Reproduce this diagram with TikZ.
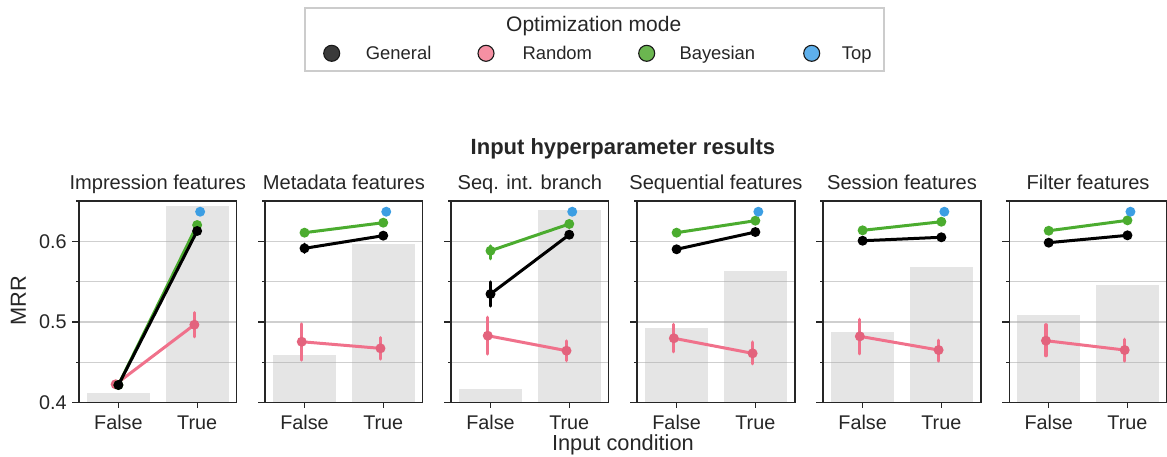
\documentclass[tikz,border=0pt]{standalone}
\usepackage{fontspec}
\setmainfont{Liberation Sans}
\definecolor{spinec}{HTML}{262626}
\definecolor{barc}{HTML}{E5E5E5}
\definecolor{gridc}{HTML}{ACACAC}
\definecolor{genc}{HTML}{000000}
\definecolor{rline}{HTML}{F0718B}
\definecolor{rmark}{HTML}{E3637D}
\definecolor{bayc}{HTML}{4BAC2F}
\definecolor{topc}{HTML}{3C9EE3}
\definecolor{lgG}{HTML}{3A3A3A}
\definecolor{lgR}{HTML}{F590A3}
\definecolor{lgB}{HTML}{6BB650}
\definecolor{lgT}{HTML}{5EB0EC}
\definecolor{legedge}{HTML}{CCCCCC}

\tikzset{
  spine/.style={draw=spinec, line width=1.6pt},
  tickln/.style={draw=spinec, line width=1.3pt},
  gridln/.style={draw=gridc, draw opacity=0.58, line width=1.3pt},
  barbox/.style={fill=barc},
  ln/.style={line width=3pt, line cap=round},
  eb/.style={line width=3.2pt, line cap=round},
  mk/.style={circle, inner sep=0pt, minimum size=10pt},
  lnG/.style={draw=genc}, mkG/.style={fill=genc},
  lnR/.style={draw=rline}, mkR/.style={fill=rmark},
  lnB/.style={draw=bayc}, mkB/.style={fill=bayc},
  mkT/.style={fill=topc},
  xlab/.style={anchor=base, inner sep=0pt, yshift=-27pt, font=\fontsize{19.8}{22}\selectfont, text=spinec},
  ylab/.style={anchor=east, inner sep=0pt, xshift=-12.3pt, font=\fontsize{19.8}{22}\selectfont, text=spinec},
  ttl/.style={anchor=base, inner sep=0pt, yshift=12pt, font=\fontsize{20.1}{22}\selectfont, text=spinec},
  axlab/.style={inner sep=0pt, font=\fontsize{21.8}{24}\selectfont, text=spinec},
  legmk/.style={circle, inner sep=0pt, minimum size=16pt, draw=black!90, line width=1.1pt},
  legtxt/.style={anchor=base west, inner sep=0pt, font=\fontsize{18.4}{21}\selectfont, text=spinec},
}

% gray bars behind the points
\newcommand\bars[2]{%
  \fill[barbox] (-0.4,0.4) rectangle (0.4,#1);
  \fill[barbox] (0.6,0.4) rectangle (1.4,#2);
}
% grid, ticks, spines, category labels and title of one panel
\newcommand\axesframe[1]{%
  \foreach \g in {0.45,0.5,0.55,0.6} \draw[gridln] (-0.5,\g) -- (1.5,\g);
  \foreach \t in {0.4,0.5,0.6} \draw[tickln] (-0.5,\t) -- ++(-7pt,0);
  \foreach \t in {0.45,0.55,0.65} \draw[tickln] (-0.5,\t) -- ++(-3.5pt,0);
  \draw[tickln] (0,0.4) -- ++(0,-5pt);
  \draw[tickln] (1,0.4) -- ++(0,-5pt);
  \draw[spine] (-0.5,0.4) rectangle (1.5,0.65);
  \node[xlab] (\pid xf) at (0,0.4) {False};
  \node[xlab] (\pid xt) at (1,0.4) {True};
  \node[ttl] (\pid ttl) at (0.5,0.65) {#1};
}
% one series: #1 key, #2 dodge, #3/#4 values at False/True,
% #5-#6 interval at False, #7-#8 interval at True
\newcommand\series[8]{%
  \coordinate (\pid#1F) at (#2,#3);
  \coordinate (\pid#1T) at ({1+(#2)},#4);
  \draw[ln,ln#1] (\pid#1F) -- (\pid#1T);
  \draw[eb,ln#1] (#2,#5) -- (#2,#6);
  \draw[eb,ln#1] ({1+(#2)},#7) -- ({1+(#2)},#8);
  \node[mk,mk#1] (\pid#1Fm) at (\pid#1F) {};
  \node[mk,mk#1] (\pid#1Tm) at (\pid#1T) {};
}
\newcommand\toppt{\node[mk,mkT] (\pid Tm) at (1.038,0.6367) {};}

\begin{document}
\begin{tikzpicture}[x=1pt,y=-1pt]
\useasboundingbox (0,0) rectangle (1167,456);

% legend
\draw[draw=legedge, line width=2pt] (304.5,7.5) rectangle (883.5,70.5);
\node[anchor=base, inner sep=0pt, font=\fontsize{21}{23}\selectfont, text=spinec] (legttl) at (593.7,31.5) {Optimization mode};
\node[legmk, fill=lgG] (lgGm) at (331.7,53.3) {};
\node[legtxt] (lgGt) at (365.7,59.3) {General};
\node[legmk, fill=lgR] (lgRm) at (486,53.3) {};
\node[legtxt] (lgRt) at (522.3,59.3) {Random};
\node[legmk, fill=lgB] (lgBm) at (646.7,53.3) {};
\node[legtxt] (lgBt) at (679.3,59.3) {Bayesian};
\node[legmk, fill=lgT] (lgTm) at (811.7,53.3) {};
\node[legtxt] (lgTt) at (841.7,59.3) {Top};

% figure titles
\node[anchor=base, inner sep=0pt, font=\bfseries\fontsize{22}{25}\selectfont, text=spinec] (sup) at (622.9,154.3) {Input hyperparameter results};
\node[axlab, anchor=base] (xcond) at (622.9,450) {Input condition};
\node[axlab, rotate=90] (mrr) at (18.3,301) {MRR};

% Impression features
\begin{scope}[shift={(118.4,724.9)},x=78.75pt,y=806pt]
\def\pid{a}
\bars{0.4118}{0.644}
\axesframe{Impression features}
\node[ylab] (ay4) at (-0.5,0.4) {0.4};
\node[ylab] (ay5) at (-0.5,0.5) {0.5};
\node[ylab] (ay6) at (-0.5,0.6) {0.6};
\series{R}{-0.035}{0.4226}{0.4965}{0.4226}{0.4226}{0.4816}{0.5114}
\series{B}{0}{0.4217}{0.6202}{0.4217}{0.4217}{0.6202}{0.6202}
\toppt
\series{G}{0}{0.4217}{0.6128}{0.4217}{0.4217}{0.6128}{0.6128}
\end{scope}

% Metadata features
\begin{scope}[shift={(304.5,724.9)},x=78.75pt,y=806pt]
\def\pid{b}
\bars{0.459}{0.597}
\axesframe{Metadata features}
\series{R}{-0.035}{0.4754}{0.4672}{0.4527}{0.4974}{0.454}{0.4804}
\series{B}{0}{0.6107}{0.6231}{0.6107}{0.6107}{0.6231}{0.6231}
\toppt
\series{G}{0}{0.5913}{0.607}{0.5863}{0.5963}{0.607}{0.607}
\end{scope}

% Seq. int. branch
\begin{scope}[shift={(490.5,724.9)},x=78.75pt,y=806pt]
\def\pid{c}
\bars{0.4168}{0.639}
\axesframe{Seq. int. branch}
\series{R}{-0.035}{0.4829}{0.4643}{0.4602}{0.5057}{0.4519}{0.4763}
\series{B}{0}{0.5883}{0.6215}{0.5784}{0.5942}{0.6215}{0.6215}
\toppt
\series{G}{0}{0.5346}{0.6082}{0.5197}{0.5495}{0.6082}{0.6082}
\end{scope}

% Sequential features
\begin{scope}[shift={(676.6,724.9)},x=78.75pt,y=806pt]
\def\pid{d}
\bars{0.4924}{0.563}
\axesframe{Sequential features}
\series{R}{-0.035}{0.4797}{0.461}{0.463}{0.497}{0.4481}{0.475}
\series{B}{0}{0.6107}{0.6256}{0.6107}{0.6107}{0.6256}{0.6256}
\toppt
\series{G}{0}{0.5901}{0.6115}{0.5875}{0.5927}{0.6115}{0.6115}
\end{scope}

% Session features
\begin{scope}[shift={(862.6,724.9)},x=78.75pt,y=806pt]
\def\pid{e}
\bars{0.488}{0.568}
\axesframe{Session features}
\series{R}{-0.035}{0.4821}{0.4651}{0.4605}{0.5032}{0.4515}{0.4772}
\series{B}{0}{0.6136}{0.6243}{0.6136}{0.6136}{0.6243}{0.6243}
\toppt
\series{G}{0}{0.6007}{0.605}{0.6007}{0.6007}{0.605}{0.605}
\end{scope}

% Filter features
\begin{scope}[shift={(1048.7,724.9)},x=78.75pt,y=806pt]
\def\pid{f}
\bars{0.509}{0.546}
\axesframe{Filter features}
\series{R}{-0.035}{0.4767}{0.4651}{0.4581}{0.4965}{0.4515}{0.4784}
\series{B}{0}{0.6131}{0.626}{0.6131}{0.6131}{0.626}{0.626}
\toppt
\series{G}{0}{0.5983}{0.6074}{0.5983}{0.5983}{0.6074}{0.6074}
\end{scope}
\end{tikzpicture}
\end{document}
